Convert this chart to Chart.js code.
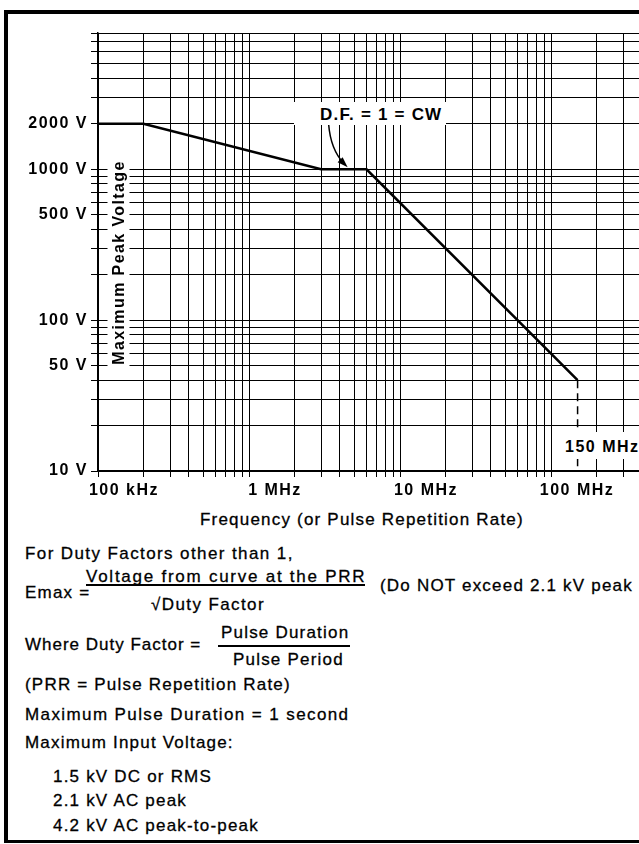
<!DOCTYPE html>
<html>
<head>
<meta charset="utf-8">
<script src="https://cdn.jsdelivr.net/npm/chart.js@4/dist/chart.umd.min.js"></script>
<style>
  html, body { margin: 0; padding: 0; background: #fff; }
  body { width: 639px; height: 844px; overflow: hidden; position: relative; }
  #frame {
    position: absolute; left: 4px; top: 10px; width: 720px; height: 826px;
    border-left: 4px solid #000; border-top: 4px solid #000; border-bottom: 3px solid #000;
  }
  #chart { position: absolute; left: 0; top: 0; }
  .t {
    position: absolute; white-space: nowrap; color: #000;
    font: 17px "Liberation Sans", Arial, sans-serif; line-height: 17px;
    letter-spacing: 1.2px; -webkit-text-stroke: 0.3px #000;
  }
  .b { font-weight: bold; -webkit-text-stroke: 0; }
  .bar { position: absolute; height: 2px; background: #000; }
  .box { position: absolute; background: #fff; }
</style>
</head>
<body>
<div id="frame"></div>
<canvas id="chart" width="720" height="510"></canvas>

<div class="box" style="left:294px;top:102px;width:152px;height:23px;"></div>
<div class="t b" style="left:320px;top:106px;letter-spacing:1.2px;">D.F. = 1 = CW</div>

<div class="box" style="left:558px;top:432px;width:90px;height:27px;"></div>
<div class="t b" style="left:565px;top:438px;font-size:16px;letter-spacing:1.5px;">150 MHz</div>

<div class="box" style="left:10px;top:252px;width:217px;height:22px;transform:rotate(-90deg);"></div>
<div class="t b" style="left:10px;top:254px;width:217px;text-align:center;font-size:16px;letter-spacing:1.4px;transform:rotate(-90deg);">Maximum Peak Voltage</div>

<div class="t" style="left:200px;top:511px;">Frequency (or Pulse Repetition Rate)</div>
<div class="t" style="left:25px;top:545px;letter-spacing:1.4px;">For Duty Factors other than 1,</div>
<div class="t" style="left:25px;top:584px;">Emax =</div>
<div class="t" style="left:86px;top:568px;letter-spacing:1.75px;">Voltage from curve at the PRR</div>
<div class="bar" style="left:86px;top:584px;width:279px;"></div>
<div class="t" style="left:151px;top:596px;letter-spacing:1.4px;">&radic;Duty Factor</div>
<div class="t" style="left:380px;top:577px;">(Do NOT exceed 2.1 kV peak</div>
<div class="t" style="left:25px;top:636px;letter-spacing:1px;">Where Duty Factor =</div>
<div class="t" style="left:221px;top:624px;">Pulse Duration</div>
<div class="bar" style="left:218px;top:645px;width:132px;"></div>
<div class="t" style="left:233px;top:651px;">Pulse Period</div>
<div class="t" style="left:25px;top:676px;">(PRR = Pulse Repetition Rate)</div>
<div class="t" style="left:25px;top:706px;letter-spacing:1.4px;">Maximum Pulse Duration = 1 second</div>
<div class="t" style="left:25px;top:734px;">Maximum Input Voltage:</div>
<div class="t" style="left:53px;top:768px;">1.5 kV DC or RMS</div>
<div class="t" style="left:53px;top:792px;">2.1 kV AC peak</div>
<div class="t" style="left:53px;top:817px;">4.2 kV AC peak-to-peak</div>

<script>
// curve
var curveFreq = [1e5, 2e5, 3e6, 6e6, 1.5e8];
var curveVolts = [2000, 2000, 1000, 1000, 40];
// dashed drop at the 150 MHz limit
var limitFreq = [1.5e8, 1.5e8];
var limitVolts = [40, 10];
// where the D.F. arrow points
var arrowTip = [4.5e6, 1000];

var xTickValues = [1e5, 1e6, 1e7, 1e8];
var xTickLabels = ["100 kHz", "1 MHz", "10 MHz", "100 MHz"];
var yTickValues = [10, 50, 100, 500, 1000, 2000];
var yTickLabels = ["10 V", "50 V", "100 V", "500 V", "1000 V", "2000 V"];

var steps = [1, 2, 3, 4, 5, 6, 7, 8, 9];
var xGrid = [];
[1e5, 1e6, 1e7, 1e8].forEach((d) => steps.forEach((s) => xGrid.push(d * s)));
xGrid.push(1e9);
var yGrid = [];
[10, 100, 1000].forEach((d) => steps.forEach((s) => { if (d * s <= 8000) yGrid.push(d * s); }));

var pts = (xs, ys) => xs.map((x, i) => ({ x: x, y: ys[i] }));
var labelFor = (vals, texts) => (v) => {
	var i = vals.indexOf(v);
	return i < 0 ? "" : texts[i];
};

var tickFont = { family: "'Liberation Sans', Arial, sans-serif", size: 16, weight: "bold" };

var spacing = {
	id: "spacing",
	beforeLayout(chart) { chart.ctx.letterSpacing = "1.5px"; },
	beforeDraw(chart) { chart.ctx.letterSpacing = "1.5px"; },
};

var arrow = {
	id: "arrow",
	afterDraw(chart) {
		var ctx = chart.ctx;
		var tx = chart.scales.x.getPixelForValue(arrowTip[0]);
		var ty = chart.scales.y.getPixelForValue(arrowTip[1]) - 2;
		ctx.save();
		ctx.strokeStyle = "#000";
		ctx.fillStyle = "#000";
		ctx.lineWidth = 1.5;
		ctx.beginPath();
		ctx.moveTo(tx - 19, ty - 43);
		ctx.quadraticCurveTo(tx - 17, ty - 18, tx - 4, ty - 4);
		ctx.stroke();
		ctx.beginPath();
		ctx.moveTo(tx, ty);
		ctx.lineTo(tx - 10, ty - 5);
		ctx.lineTo(tx - 5, ty - 10);
		ctx.closePath();
		ctx.fill();
		ctx.restore();
	},
};

new Chart(document.getElementById("chart").getContext("2d"), {
	type: "scatter",
	data: {
		datasets: [
			{
				data: pts(curveFreq, curveVolts),
				showLine: true,
				borderColor: "#000",
				borderWidth: 2.5,
				pointRadius: 0,
			},
			{
				data: pts(limitFreq, limitVolts),
				showLine: true,
				borderColor: "#000",
				borderWidth: 1.5,
				borderDash: [8, 5],
				pointRadius: 0,
			},
		],
	},
	options: {
		responsive: false,
		animation: false,
		layout: { padding: { top: 33, right: 18, left: 0, bottom: 0 } },
		plugins: { legend: { display: false }, tooltip: { enabled: false } },
		scales: {
			x: {
				type: "logarithmic",
				min: 1e5,
				max: 1e9,
				afterBuildTicks: (s) => { s.ticks = xGrid.map((v) => ({ value: v })); },
				afterFit: (s) => { s.height = 39; },
				ticks: {
					autoSkip: false,
					maxRotation: 0,
					labelOffset: 26,
					padding: 4,
					color: "#000",
					font: tickFont,
					callback: labelFor(xTickValues, xTickLabels),
				},
				grid: { color: "#000", lineWidth: 1, tickLength: 6 },
				border: { color: "#000", width: 1.5 },
			},
			y: {
				type: "logarithmic",
				min: 10,
				max: 8000,
				afterBuildTicks: (s) => { s.ticks = yGrid.map((v) => ({ value: v })); },
				afterFit: (s) => { s.width = 98; },
				ticks: {
					autoSkip: false,
					padding: 3,
					color: "#000",
					font: tickFont,
					callback: labelFor(yTickValues, yTickLabels),
				},
				grid: { color: "#000", lineWidth: 1, tickLength: 7 },
				border: { color: "#000", width: 1.5 },
			},
		},
	},
	plugins: [spacing, arrow],
});
</script>
</body>
</html>
